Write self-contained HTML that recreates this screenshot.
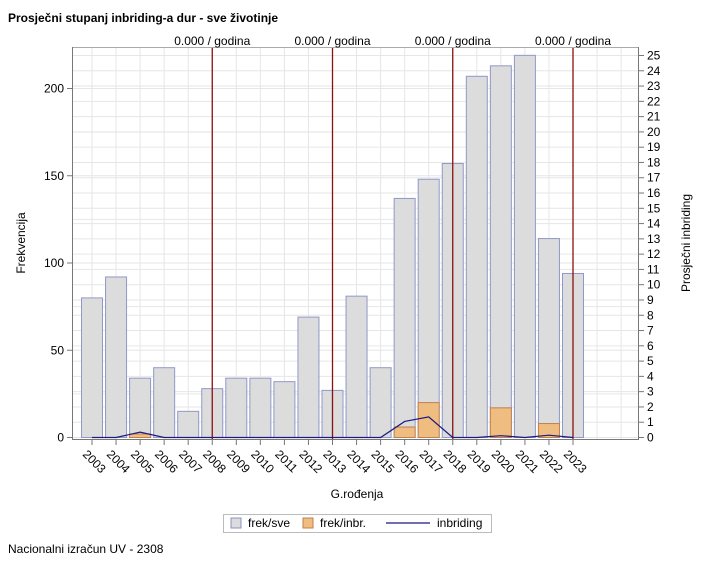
<!DOCTYPE html>
<html><head><meta charset="utf-8"><style>
body{margin:0;background:#fff;}
svg text{font-family:"Liberation Sans",sans-serif;}
</style></head><body>
<svg width="718" height="567" xmlns="http://www.w3.org/2000/svg">
<rect width="718" height="567" fill="#fff"/>
<text x="8" y="22" font-size="12" font-weight="bold" fill="#000">Prosječni stupanj inbriding-a dur - sve životinje</text>
<g id="grid" stroke="#e6e6e6" stroke-width="1"></g>
<g id="bars"></g>
<g id="red" stroke="#8c1010" stroke-width="1.3"></g>
<polyline id="line" fill="none" stroke="#1a1a80" stroke-width="1.2"/>
<rect x="72.5" y="47.5" width="566" height="392" fill="none" stroke="#aaa"/>
<g id="axes" font-size="12" fill="#000"></g>
<text x="0" y="0" transform="translate(25,243) rotate(-90)" font-size="12" text-anchor="middle">Frekvencija</text>
<text x="0" y="0" transform="translate(690,243) rotate(-90)" font-size="12" text-anchor="middle">Prosječni inbriding</text>
<text x="357" y="498" font-size="12" text-anchor="middle">G.rođenja</text>
<rect x="223.5" y="514.5" width="268" height="18" fill="#fff" stroke="#bbb"/>
<rect x="231" y="518" width="10" height="10" fill="#dcdcdc" stroke="#8890c0"/>
<text x="248" y="527" font-size="12">frek/sve</text>
<rect x="303" y="518" width="10" height="10" fill="#f0bd80" stroke="#c08050"/>
<text x="320" y="527" font-size="12">frek/inbr.</text>
<line x1="386" y1="523" x2="430" y2="523" stroke="#1a1a80" stroke-width="1.2"/>
<text x="437" y="527" font-size="12">inbriding</text>
<text x="8" y="553" font-size="12">Nacionalni izračun UV - 2308</text>
<script>
const NS="http://www.w3.org/2000/svg";
function el(p,t,a,txt){const e=document.createElementNS(NS,t);for(const k in a)e.setAttribute(k,a[k]);if(txt!==undefined)e.textContent=txt;document.getElementById(p).appendChild(e);return e;}
const y0=437.5,sc=1.745,rs=15.28;
for(let v=0;v<=25;v++){const y=y0-v*rs;el('grid','line',{x1:73,x2:638,y1:y,y2:y});}
for(let v=0;v<=220;v+=25){const y=y0-v*sc;el('grid','line',{x1:73,x2:638,y1:y,y2:y});}
const cx=i=>92+i*24.05;
for(let i=0;i<23;i++){el('grid','line',{x1:cx(i),x2:cx(i),y1:48,y2:439});}
const tot=[80,92,34,40,15,28,34,34,32,69,27,81,40,137,148,157,207,213,219,114,94];
const inb=[0,0,2,0,0,0,0,0,0,0,0,0,0,6,20,0,0,17,0,8,0];
const ln=[0,0,0.35,0,0,0,0,0,0,0,0,0,0,1.05,1.35,0,0,0.12,0,0.15,0];
tot.forEach((v,i)=>{const x=cx(i)-10.5;el('bars','rect',{x:x,y:y0-v*sc,width:21,height:v*sc,fill:'#dcdcdc',stroke:'#9098c8','stroke-width':1});
 if(inb[i])el('bars','rect',{x:x,y:y0-inb[i]*sc,width:21,height:inb[i]*sc,fill:'#f0bd80',stroke:'#c08050','stroke-width':1});});
document.getElementById('line').setAttribute('points',ln.map((v,i)=>cx(i)+','+(y0-v*rs)).join(' '));
[5,10,15,20].forEach(i=>{el('red','line',{x1:cx(i),x2:cx(i),y1:48,y2:439});el('axes','text',{x:cx(i),y:45,'text-anchor':'middle'},'0.000 / godina');});
el('axes','line',{x1:72.5,x2:72.5,y1:47,y2:440,stroke:'#777'});
el('axes','line',{x1:72,x2:639,y1:439.5,y2:439.5,stroke:'#777'});
el('axes','line',{x1:638.5,x2:638.5,y1:47,y2:440,stroke:'#777'});
for(let v=0;v<=200;v+=50){const y=y0-v*sc;el('axes','line',{x1:67,x2:72,y1:y,y2:y,stroke:'#777'});el('axes','text',{x:64,y:y+4,'text-anchor':'end'},v);}
for(let v=0;v<=25;v++){const y=y0-v*rs;el('axes','line',{x1:639,x2:644,y1:y,y2:y,stroke:'#777'});el('axes','text',{x:647,y:y+4},v);}
tot.forEach((v,i)=>{const x=cx(i);el('axes','line',{x1:x,x2:x,y1:440,y2:445,stroke:'#777'});
 el('axes','text',{x:0,y:0,transform:`translate(${x-10},${455}) rotate(45)`},2003+i);});
</script>
</svg>
</body></html>
